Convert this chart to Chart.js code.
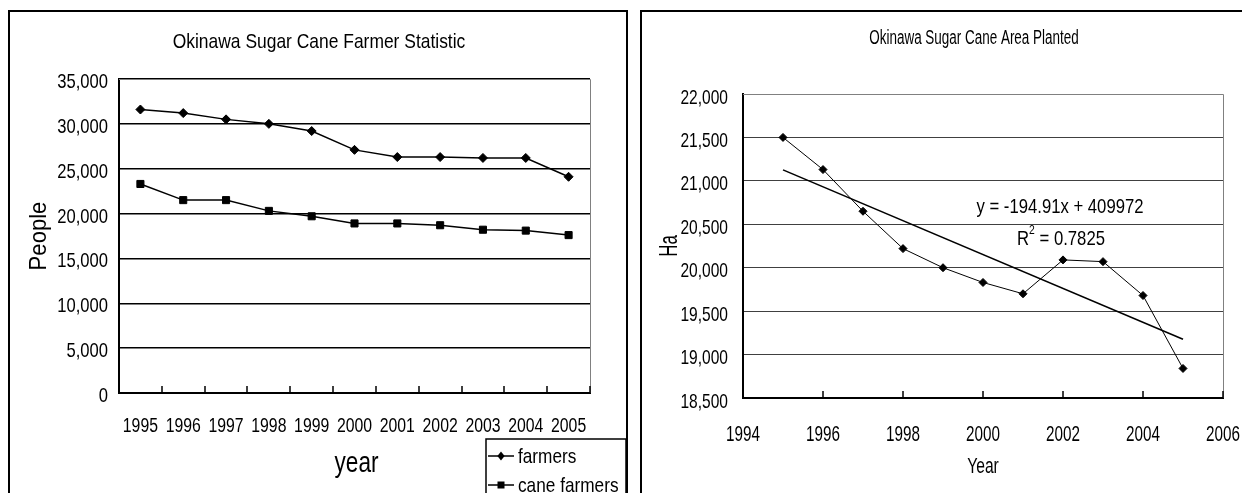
<!DOCTYPE html>
<html>
<head>
<meta charset="utf-8">
<script src="https://cdn.jsdelivr.net/npm/chart.js@4.4.0/dist/chart.umd.min.js"></script>
<style>
  html, body { margin: 0; padding: 0; background: #fff; }
  body { width: 1242px; height: 493px; position: relative; overflow: hidden; }
  #farmerChart { position: absolute; left: 0; top: 0; }
  #areaChart { position: absolute; left: 632px; top: 0; }
</style>
</head>
<body>
<canvas id="farmerChart" width="632" height="493"></canvas>
<canvas id="areaChart" width="610" height="493"></canvas>
<script>
// ---- data ----
var years = ['1995', '1996', '1997', '1998', '1999', '2000', '2001', '2002', '2003', '2004', '2005'];
var farmers = [31600, 31200, 30500, 30000, 29200, 27100, 26300, 26300, 26200, 26200, 24100];
var caneFarmers = [23300, 21500, 21500, 20300, 19700, 18900, 18900, 18700, 18200, 18100, 17600];

var areaYears = [1995, 1996, 1997, 1998, 1999, 2000, 2001, 2002, 2003, 2004, 2005];
var areaPlanted = [21500, 21130, 20650, 20220, 20000, 19830, 19700, 20090, 20070, 19680, 18840];

// linear trendline printed on the chart
var trendSlope = -194.91;
var trendIntercept = 409972;
var trendR2 = '0.7825';

var peopleTicks = { min: 0, max: 35000, step: 5000 };
var haTicks = { min: 18500, max: 22000, step: 500 };
var yearTicks = { min: 1994, max: 2006, step: 2 };

var SANS = "'Liberation Sans', Arial, sans-serif";

function commas(v) { return Number(v).toLocaleString('en-US'); }

// the original uses a tall narrow face, so squeeze the text horizontally
function putText(ctx, text, x, y, size, squeeze, align, angle) {
  ctx.save();
  ctx.translate(x, y);
  if (angle) ctx.rotate(angle);
  ctx.scale(squeeze, 1);
  ctx.font = size + 'px ' + SANS;
  ctx.textAlign = align || 'center';
  ctx.textBaseline = 'alphabetic';
  ctx.fillStyle = '#000';
  ctx.fillText(text, 0, 0);
  ctx.restore();
}

function textWidth(ctx, text, size, squeeze) {
  ctx.save();
  ctx.font = size + 'px ' + SANS;
  var w = ctx.measureText(text).width * squeeze;
  ctx.restore();
  return w;
}

function diamond(ctx, x, y, r) {
  ctx.beginPath();
  ctx.moveTo(x, y - r); ctx.lineTo(x + r * 0.8, y); ctx.lineTo(x, y + r); ctx.lineTo(x - r * 0.8, y);
  ctx.closePath(); ctx.fill();
}

// excel-ish frame: outer box, plot border, inner tick marks, all the text
function makeFrame(cfg) {
  return {
    id: 'excelFrame',
    beforeDraw: function(chart) {
      var ctx = chart.ctx;
      ctx.save();
      ctx.fillStyle = '#fff';
      ctx.fillRect(0, 0, chart.width, chart.height);
      ctx.restore();
    },
    beforeDatasetsDraw: function(chart) {
      var ctx = chart.ctx, a = chart.chartArea, xs = chart.scales.x;
      ctx.save();
      // top / right plot border in grey
      ctx.strokeStyle = '#808080';
      ctx.lineWidth = 1;
      ctx.beginPath();
      ctx.moveTo(a.left, a.top + 0.5);
      ctx.lineTo(Math.round(a.right) + 0.5, a.top + 0.5);
      ctx.lineTo(Math.round(a.right) + 0.5, a.bottom);
      ctx.stroke();
      // small tick marks pointing up into the plot
      ctx.strokeStyle = '#000';
      ctx.lineWidth = 1.5;
      ctx.beginPath();
      cfg.tickPixels(xs).forEach(function(px) {
        ctx.moveTo(Math.round(px), a.bottom);
        ctx.lineTo(Math.round(px), a.bottom - 7);
      });
      ctx.stroke();
      ctx.restore();
    },
    afterDraw: function(chart) {
      var ctx = chart.ctx;
      ctx.save();
      ctx.strokeStyle = '#000';
      ctx.lineWidth = 2;
      ctx.strokeRect(cfg.box[0], cfg.box[1], cfg.box[2], cfg.box[3]);
      cfg.texts(ctx, chart);
      ctx.restore();
    }
  };
}

// ---------------- left chart ----------------
new Chart(document.getElementById('farmerChart'), {
  type: 'line',
  data: {
    labels: years,
    datasets: [{
      label: 'farmers',
      data: farmers,
      borderColor: '#000',
      borderWidth: 1.5,
      pointStyle: 'rectRot',
      pointRadius: 4.5,
      pointBackgroundColor: '#000',
      pointBorderColor: '#000',
      pointBorderWidth: 1,
      tension: 0
    }, {
      label: 'cane farmers',
      data: caneFarmers,
      borderColor: '#000',
      borderWidth: 1.5,
      pointStyle: 'rect',
      pointRadius: 5,
      pointBackgroundColor: '#000',
      pointBorderColor: '#000',
      pointBorderWidth: 1,
      tension: 0
    }]
  },
  options: {
    responsive: false,
    animation: false,
    layout: { padding: { left: 0, top: 79, right: 42, bottom: 0 } },
    plugins: { legend: { display: false }, title: { display: false }, tooltip: { enabled: false } },
    scales: {
      x: {
        offset: true,
        grid: { display: false },
        border: { display: true, color: '#000', width: 2 },
        ticks: { display: false, autoSkip: false },
        afterFit: function(s) { s.height = 100; }
      },
      y: {
        min: peopleTicks.min,
        max: peopleTicks.max,
        grid: { color: '#000', lineWidth: 1.5, drawTicks: false },
        border: { display: true, color: '#000', width: 2 },
        ticks: { display: false, stepSize: peopleTicks.step },
        afterFit: function(s) { s.width = 119; }
      }
    }
  },
  plugins: [makeFrame({
    box: [9, 11, 618, 520],
    tickPixels: function(xs) {
      var out = [];
      for (var i = 1; i <= years.length; i++) out.push(xs.getPixelForValue(i - 0.5));
      return out;
    },
    texts: function(ctx, chart) {
      var a = chart.chartArea, xs = chart.scales.x, ys = chart.scales.y;
      putText(ctx, 'Okinawa Sugar Cane Farmer Statistic', 319, 48, 21, 0.83);
      ys.ticks.forEach(function(t) {
        putText(ctx, commas(t.value), a.left - 11, ys.getPixelForValue(t.value) + 9, 21, 0.79, 'right');
      });
      years.forEach(function(lab, i) {
        putText(ctx, lab, xs.getPixelForValue(i), 432, 20, 0.79);
      });
      putText(ctx, 'year', (a.left + a.right) / 2 + 2, 472, 29, 0.78);
      putText(ctx, 'People', 45.5, (a.top + a.bottom) / 2, 24, 0.92, 'center', -Math.PI / 2);

      // legend box hanging off the bottom right corner
      var ds = chart.data.datasets;
      ctx.fillStyle = '#fff';
      ctx.fillRect(486, 439, 140, 70);
      ctx.strokeStyle = '#000';
      ctx.lineWidth = 1.5;
      ctx.strokeRect(486, 439, 140, 70);
      ctx.fillStyle = '#000';
      [456, 485].forEach(function(y, i) {
        ctx.beginPath(); ctx.moveTo(488, y); ctx.lineTo(514, y); ctx.stroke();
        if (i === 0) diamond(ctx, 501, y, 4.5);
        else ctx.fillRect(497.5, y - 3.5, 7, 7);
        putText(ctx, ds[i].label, 518, y + 6.5, 21, 0.82, 'left');
      });
    }
  })]
});

// ---------------- right chart ----------------
var areaPoints = areaYears.map(function(yr, i) { return { x: yr, y: areaPlanted[i] }; });
var firstYear = areaYears[0], lastYear = areaYears[areaYears.length - 1];
var trendPoints = [
  { x: firstYear, y: trendSlope * firstYear + trendIntercept },
  { x: lastYear, y: trendSlope * lastYear + trendIntercept }
];

new Chart(document.getElementById('areaChart'), {
  type: 'line',
  data: {
    datasets: [{
      label: 'Area planted',
      data: areaPoints,
      borderColor: '#000',
      borderWidth: 1,
      pointStyle: 'rectRot',
      pointRadius: 4,
      pointBackgroundColor: '#000',
      pointBorderColor: '#000',
      pointBorderWidth: 1,
      tension: 0
    }, {
      label: 'Linear trend',
      data: trendPoints,
      borderColor: '#000',
      borderWidth: 1.6,
      pointRadius: 0,
      tension: 0
    }]
  },
  options: {
    responsive: false,
    animation: false,
    layout: { padding: { left: 0, top: 94, right: 19, bottom: 0 } },
    plugins: { legend: { display: false }, title: { display: false }, tooltip: { enabled: false } },
    scales: {
      x: {
        type: 'linear',
        min: yearTicks.min,
        max: yearTicks.max,
        grid: { display: false },
        border: { display: true, color: '#000', width: 2 },
        ticks: { display: false, stepSize: yearTicks.step },
        afterFit: function(s) { s.height = 95; }
      },
      y: {
        min: haTicks.min,
        max: haTicks.max,
        grid: { color: '#404040', lineWidth: 1, drawTicks: false },
        border: { display: true, color: '#000', width: 2 },
        ticks: { display: false, stepSize: haTicks.step },
        afterFit: function(s) { s.width = 111; }
      }
    }
  },
  plugins: [makeFrame({
    box: [9, 11, 700, 520],
    tickPixels: function(xs) {
      return xs.ticks.map(function(t) { return xs.getPixelForValue(t.value); });
    },
    texts: function(ctx, chart) {
      var a = chart.chartArea, xs = chart.scales.x, ys = chart.scales.y;
      putText(ctx, 'Okinawa Sugar Cane Area Planted', 342, 44, 19.5, 0.69);
      ys.ticks.forEach(function(t) {
        putText(ctx, commas(t.value), a.left - 15, ys.getPixelForValue(t.value) + 9.6, 21, 0.74, 'right');
      });
      xs.ticks.forEach(function(t) {
        putText(ctx, String(t.value), xs.getPixelForValue(t.value), 440.5, 21.5, 0.71);
      });
      putText(ctx, 'Year', (a.left + a.right) / 2, 473, 22, 0.71);
      putText(ctx, 'Ha', 44.5, (a.top + a.bottom) / 2, 26, 0.65, 'center', -Math.PI / 2);

      // trendline equation and R squared
      putText(ctx, 'y = ' + trendSlope + 'x + ' + trendIntercept, 428, 213, 21, 0.795);
      var rest = ' = ' + trendR2;
      var wR = textWidth(ctx, 'R', 21, 0.795), wSup = textWidth(ctx, '2', 13, 0.795), wRest = textWidth(ctx, rest, 21, 0.795);
      var x0 = 429 - (wR + wSup + wRest) / 2;
      putText(ctx, 'R', x0, 245, 21, 0.795, 'left');
      putText(ctx, '2', x0 + wR, 234, 13, 0.795, 'left');
      putText(ctx, rest, x0 + wR + wSup, 245, 21, 0.795, 'left');
    }
  })]
});
</script>
</body>
</html>
